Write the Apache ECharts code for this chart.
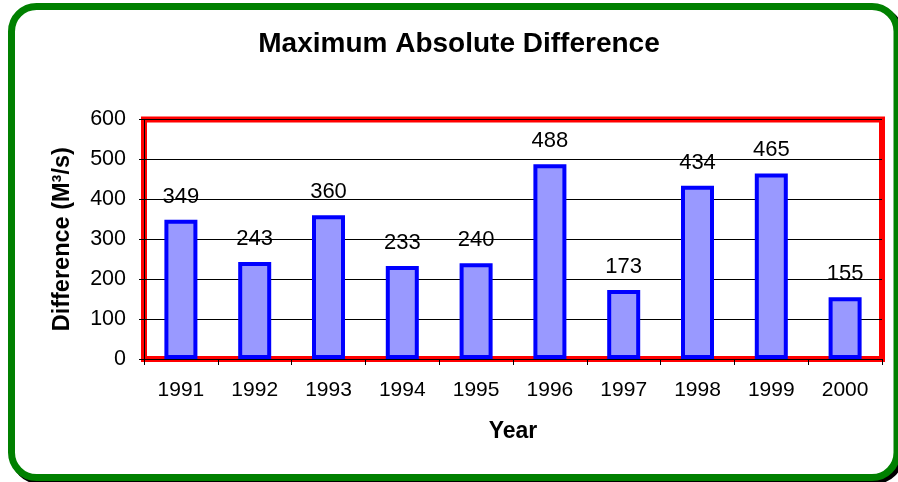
<!DOCTYPE html>
<html>
<head>
<meta charset="utf-8">
<title>Maximum Absolute Difference</title>
<script src="https://cdn.jsdelivr.net/npm/echarts@6/dist/echarts.min.js"></script>
<style>
  html, body { margin: 0; padding: 0; background: #ffffff; }
  #chart { width: 898px; height: 482px; }
</style>
</head>
<body>
<div id="chart"></div>
<script>
// Yearly maximum absolute difference of discharge (m³/s)
const years = ['1991', '1992', '1993', '1994', '1995', '1996', '1997', '1998', '1999', '2000'];
const maxAbsDiff = [349, 243, 360, 233, 240, 488, 173, 434, 465, 155];

const yMin = 0;
const yMax = 600;
const yStep = 100;

const FONT = '"Liberation Sans", Arial, sans-serif';

const chart = echarts.init(document.getElementById('chart'), null, { renderer: 'canvas' });

chart.setOption({
  backgroundColor: '#ffffff',
  animation: false,
  title: {
    text: 'Maximum Absolute Difference',
    left: 454,
    top: 25,
    textAlign: 'center',
    textStyle: { fontFamily: FONT, fontSize: 28, fontWeight: 'bold', color: '#000' }
  },
  graphic: [
    {
      type: 'rect',
      z: -2,
      silent: true,
      shape: { x: 14.5, y: 9.5, width: 885.5, height: 471, r: 25 },
      style: { fill: null, stroke: '#000000', lineWidth: 7 }
    },
    {
      type: 'rect',
      z: -1,
      silent: true,
      shape: { x: 11.5, y: 6.5, width: 885.5, height: 471, r: 25 },
      style: { fill: '#ffffff', stroke: '#008000', lineWidth: 7 }
    }
  ],
  grid: {
    left: 144,
    right: 16,
    top: 119.5,
    bottom: 123,
    show: true,
    borderColor: '#ff0000',
    borderWidth: 6,
    backgroundColor: 'transparent'
  },
  xAxis: {
    type: 'category',
    data: years,
    name: 'Year',
    nameLocation: 'middle',
    nameGap: 61,
    nameTextStyle: { fontFamily: FONT, fontSize: 23, fontWeight: 'bold', color: '#000' },
    axisLine: { show: true, lineStyle: { color: '#000', width: 1 } },
    axisTick: { show: true, length: 6, lineStyle: { color: '#000', width: 1 } },
    axisLabel: { fontFamily: FONT, fontSize: 21, color: '#000', margin: 21 },
    splitLine: { show: false }
  },
  yAxis: {
    type: 'value',
    min: yMin,
    max: yMax,
    interval: yStep,
    name: 'Difference (M³/s)',
    nameLocation: 'middle',
    nameGap: 69,
    nameTextStyle: { fontFamily: FONT, fontSize: 23.5, fontWeight: 'bold', color: '#000' },
    axisLine: { show: true, lineStyle: { color: '#000', width: 1 } },
    axisTick: { show: true, length: 5, lineStyle: { color: '#000', width: 1 } },
    axisLabel: { fontFamily: FONT, fontSize: 21.5, color: '#000', margin: 18 },
    splitLine: { show: true, lineStyle: { color: '#000', width: 1 } }
  },
  series: [
    {
      type: 'bar',
      data: maxAbsDiff,
      barWidth: 33,
      itemStyle: { color: '#9999ff', borderColor: '#0000ff', borderWidth: 4 },
      label: {
        show: true,
        position: 'top',
        distance: 12,
        fontFamily: FONT,
        fontSize: 22,
        color: '#000'
      }
    }
  ]
});
</script>
</body>
</html>
